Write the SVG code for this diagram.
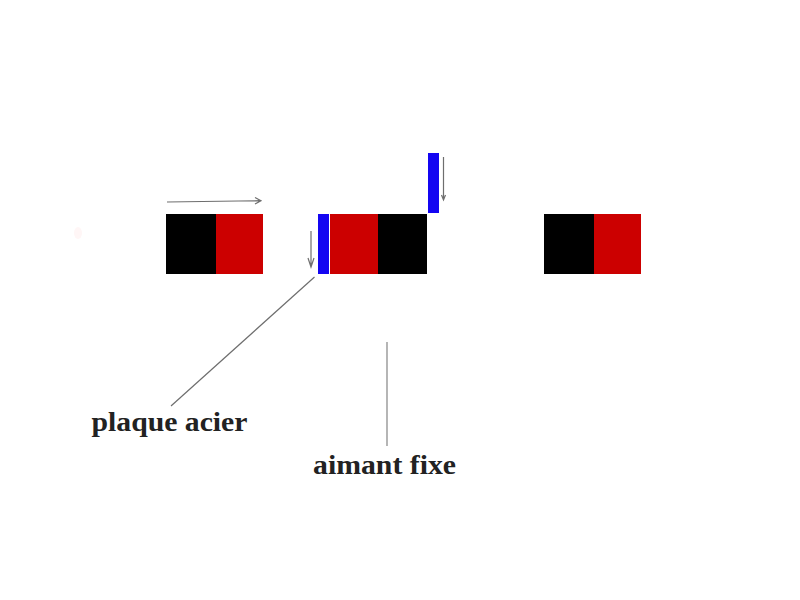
<svg xmlns="http://www.w3.org/2000/svg" width="800" height="600" viewBox="0 0 800 600">
<style>
.k{fill:#000}.r{fill:#cc0000}.b{fill:#1405f2}
.c{fill:none;stroke:#6e6e6e;stroke-width:1.200}
.t{font-family:"Liberation Serif",serif;font-weight:bold;font-size:28px;fill:#222}
</style>
<rect width="800" height="600" fill="#fff"/>
<ellipse cx="78" cy="233" rx="4" ry="6" fill="#fff6f6"/>
<g id="magnet-left"><rect class="k" x="166" y="214" width="50" height="60"/><rect class="r" x="216" y="214" width="47" height="60"/></g>
<g id="magnet-middle"><rect class="r" x="330" y="214" width="48" height="60"/><rect class="k" x="378" y="214" width="49" height="60"/></g>
<g id="magnet-right"><rect class="k" x="544" y="214" width="50" height="60"/><rect class="r" x="594" y="214" width="47" height="60"/></g>
<g id="plate-attached"><rect class="b" x="318" y="214" width="11" height="60"/></g>
<g id="plate-top"><rect class="b" x="428" y="153" width="11" height="60"/></g>
<g id="connectors">
<path class="c" d="M167 202L261 200.700M255 197.500L261 200.700L255 204"/>
<path class="c" d="M311 231V267M308 258L311 267L314 258"/>
<path class="c" d="M443.500 157V200M441.500 195L443.500 200L445.500 195"/>
<path class="c" d="M314.500 277L171 406"/>
<path class="c" stroke-opacity=".85" d="M387 342V446"/>
</g>
<g id="label-plaque"><text class="t" x="91.500" y="431" textLength="156" lengthAdjust="spacingAndGlyphs">plaque acier</text></g>
<g id="label-aimant"><text class="t" x="313" y="474" textLength="143" lengthAdjust="spacingAndGlyphs">aimant fixe</text></g>
</svg>
